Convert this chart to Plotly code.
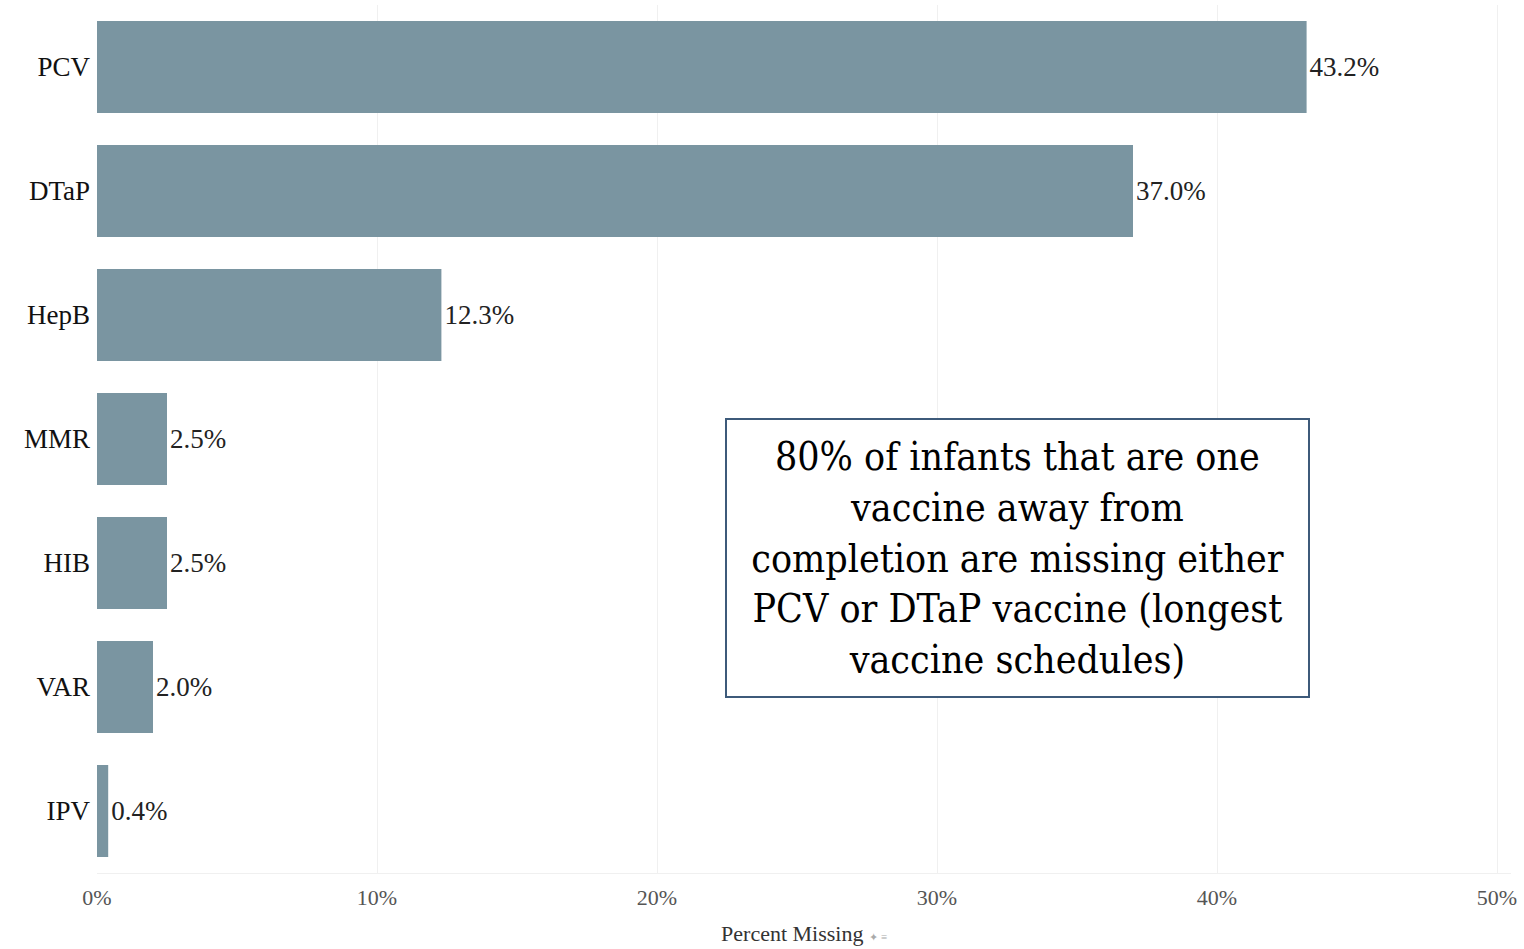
import plotly.graph_objects as go

vaccines = ["PCV", "DTaP", "HepB", "MMR", "HIB", "VAR", "IPV"]
pct_missing = [43.2, 37.0, 12.3, 2.5, 2.5, 2.0, 0.4]
tick_vals = [0, 10, 20, 30, 40, 50]
tick_text = ["0%", "10%", "20%", "30%", "40%", "50%"]
note = ("80% of infants that are one<br>vaccine away from<br>completion are missing either"
        "<br>PCV or DTaP vaccine (longest<br>vaccine schedules)")

fig = go.Figure(go.Bar(
    x=pct_missing, y=vaccines, orientation="h",
    marker=dict(color="#7a95a1", line=dict(width=0)),
    text=[f"{v:.1f}%" for v in pct_missing], textposition="outside",
    textfont=dict(family="Liberation Serif", size=27, color="#222"),
    cliponaxis=False,
))

fig.update_layout(
    width=1524, height=949,
    margin=dict(l=97, r=13, t=5, b=76),
    plot_bgcolor="white", paper_bgcolor="white",
    bargap=0.26, showlegend=False,
    xaxis=dict(range=[0, 50.5], tickvals=tick_vals, ticktext=tick_text,
               showgrid=True, gridcolor="#f0f0f0", gridwidth=1,
               zeroline=False, showline=True, linecolor="#f0f0f0",
               tickfont=dict(family="Liberation Serif", size=22, color="#555"),
               ticks="", ticklabelstandoff=5,
               title=dict(text="Percent Missing <span style='font-size:11px;color:#aaa'>✦ ≡</span>",
                          font=dict(family="Liberation Serif", size=22, color="#333"),
                          standoff=16)),
    yaxis=dict(autorange="reversed", showgrid=False, zeroline=False,
               tickfont=dict(family="Liberation Serif", size=27, color="#111"),
               ticks="", ticklabelstandoff=6),
)

fig.add_annotation(
    xref="paper", yref="paper", x=(1017 - 97) / 1414, y=1 - (558 - 5) / 868,
    text=note, showarrow=False, align="center",
    font=dict(family="DejaVu Serif Condensed", size=39, color="#000"),
    bordercolor="#3d5a7a", borderwidth=2, borderpad=0, bgcolor="white",
    width=581, height=276,
)

fig.write_html("out.html", config={"displayModeBar": False},
               post_script="document.body.style.margin='0px';")
